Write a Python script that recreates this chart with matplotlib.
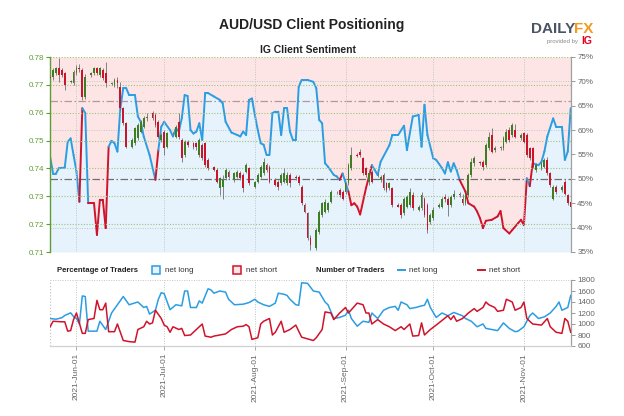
import matplotlib
matplotlib.use("Agg")
import matplotlib.dates as mdates
import matplotlib.pyplot as plt
import numpy as np
import pandas as pd
from matplotlib.collections import LineCollection
from matplotlib.lines import Line2D
from matplotlib.patches import Rectangle
from matplotlib.ticker import FormatStrFormatter, FuncFormatter

plt.rcParams["font.family"] = ["Liberation Sans", "DejaVu Sans"]

W, H = 624, 416

# AUD/USD daily candles, one per trading day (Sun-Fri), 2021-05-23 .. 2021-11-17
price_open = [
    .7729, .7729, .7741, .7759, .7753, .7741,
    .7711, .7705, .7741, .7762, .7753, .7658,
    .7735, .7741, .7759, .7735, .7753, .7741,
    .7703, .7699, .7717, .7693, .7616, .7563,
    .7478, .7490, .7508, .7532, .7550, .7580,
    .7598, .7592, .7568, .7502, .7532, .7478,
    .7526, .7514, .7568, .7502, .7448, .7496,
    .7490, .7490, .7448, .7484, .7490, .7430,
    .7406, .7394, .7328, .7334, .7364, .7388,
    .7358, .7370, .7382, .7376, .7388, .7400,
    .7334, .7352, .7370, .7382, .7412, .7406,
    .7358, .7352, .7346, .7352, .7346, .7376,
    .7370, .7370, .7334, .7269, .7239, .7149,
    .7113, .7173, .7233, .7245, .7251, .7281,
    .7314, .7322, .7316, .7316, .7346, .7400,
    .7450, .7460, .7436, .7400, .7352, .7388,
    .7376, .7358, .7376, .7346, .7328, .7328,
    .7269, .7269, .7239, .7263, .7269, .7304,
    .7251, .7257, .7292, .7269, .7209, .7221,
    .7263, .7263, .7298, .7292, .7269, .7298,
    .7310, .7292, .7275, .7304, .7376, .7418,
    .7424, .7424, .7412, .7472, .7520, .7466,
    .7472, .7472, .7496, .7538, .7520, .7538,
    .7508, .7526, .7520, .7472, .7472, .7394,
    .7400, .7406, .7430, .7382, .7292, .7334,
    .7322, .7352, .7304, .7281,
]
price_high = [
    .7735, .7759, .7765, .7795, .7760, .7745,
    .7718, .7753, .7771, .7775, .7760, .7740,
    .7747, .7765, .7765, .7765, .7760, .7783,
    .7712, .7723, .7729, .7711, .7622, .7568,
    .7508, .7550, .7562, .7574, .7590, .7600,
    .7605, .7598, .7574, .7526, .7538, .7532,
    .7532, .7556, .7598, .7508, .7502, .7502,
    .7496, .7495, .7508, .7490, .7496, .7436,
    .7410, .7400, .7370, .7376, .7400, .7394,
    .7388, .7394, .7390, .7382, .7418, .7406,
    .7356, .7382, .7412, .7436, .7420, .7412,
    .7364, .7358, .7382, .7400, .7388, .7382,
    .7376, .7376, .7340, .7275, .7245, .7160,
    .7185, .7250, .7281, .7290, .7281, .7322,
    .7320, .7328, .7322, .7352, .7418, .7478,
    .7455, .7470, .7442, .7406, .7390, .7394,
    .7382, .7376, .7382, .7352, .7352, .7334,
    .7275, .7275, .7298, .7304, .7328, .7316,
    .7268, .7316, .7298, .7275, .7240, .7260,
    .7275, .7298, .7310, .7298, .7304, .7322,
    .7316, .7310, .7310, .7382, .7436, .7445,
    .7428, .7430, .7490, .7530, .7546, .7480,
    .7480, .7515, .7540, .7550, .7562, .7560,
    .7526, .7532, .7526, .7478, .7478, .7418,
    .7424, .7436, .7440, .7388, .7340, .7340,
    .7340, .7360, .7310, .7290,
]
price_low = [
    .7717, .7717, .7735, .7711, .7729, .7681,
    .7705, .7700, .7735, .7745, .7646, .7650,
    .7729, .7735, .7735, .7729, .7717, .7693,
    .7699, .7693, .7687, .7610, .7555, .7472,
    .7472, .7484, .7502, .7526, .7544, .7570,
    .7575, .7550, .7508, .7496, .7448, .7472,
    .7520, .7508, .7505, .7424, .7442, .7478,
    .7470, .7465, .7440, .7430, .7406, .7394,
    .7390, .7346, .7304, .7292, .7358, .7364,
    .7352, .7364, .7358, .7316, .7382, .7340,
    .7328, .7346, .7364, .7376, .7388, .7346,
    .7336, .7322, .7340, .7346, .7340, .7334,
    .7360, .7340, .7269, .7239, .7143, .7107,
    .7107, .7165, .7225, .7240, .7245, .7275,
    .7310, .7298, .7286, .7310, .7340, .7394,
    .7440, .7440, .7376, .7370, .7340, .7346,
    .7370, .7352, .7322, .7316, .7322, .7263,
    .7260, .7221, .7233, .7257, .7263, .7251,
    .7246, .7251, .7227, .7170, .7200, .7215,
    .7258, .7257, .7280, .7230, .7263, .7292,
    .7298, .7270, .7269, .7298, .7370, .7410,
    .7412, .7394, .7406, .7466, .7455, .7460,
    .7466, .7466, .7490, .7496, .7514, .7508,
    .7502, .7490, .7440, .7430, .7400, .7388,
    .7394, .7400, .7376, .7334, .7286, .7310,
    .7316, .7304, .7269, .7255,
]
price_close = [
    .7723, .7753, .7759, .7735, .7735, .7700,
    .7713, .7747, .7759, .7757, .7658, .7729,
    .7741, .7759, .7741, .7759, .7723, .7705,
    .7707, .7717, .7705, .7616, .7563, .7478,
    .7502, .7544, .7556, .7568, .7580, .7586,
    .7580, .7556, .7514, .7520, .7472, .7526,
    .7528, .7550, .7514, .7436, .7496, .7484,
    .7478, .7478, .7502, .7436, .7412, .7400,
    .7394, .7352, .7364, .7358, .7394, .7370,
    .7382, .7388, .7364, .7328, .7412, .7346,
    .7352, .7376, .7406, .7424, .7394, .7352,
    .7340, .7334, .7376, .7382, .7376, .7346,
    .7364, .7346, .7275, .7245, .7149, .7125,
    .7179, .7245, .7275, .7281, .7275, .7316,
    .7316, .7304, .7292, .7346, .7412, .7448,
    .7446, .7448, .7382, .7376, .7382, .7352,
    .7378, .7370, .7328, .7322, .7346, .7269,
    .7263, .7233, .7292, .7298, .7316, .7257,
    .7263, .7304, .7233, .7179, .7233, .7251,
    .7270, .7292, .7290, .7269, .7298, .7310,
    .7304, .7275, .7304, .7376, .7424, .7436,
    .7418, .7406, .7484, .7514, .7460, .7472,
    .7476, .7508, .7532, .7502, .7556, .7514,
    .7520, .7496, .7448, .7436, .7406, .7412,
    .7418, .7430, .7382, .7340, .7334, .7316,
    .7334, .7310, .7275, .7263,
]

# IG client sentiment: % of traders net long
sentiment_days = [
    "05-23", "05-24", "05-25", "05-26", "05-28", "05-29", "05-30", "05-31", "06-01", "06-02",
    "06-03", "06-04", "06-05", "06-07", "06-08", "06-09", "06-10", "06-11", "06-12", "06-13",
    "06-14", "06-15", "06-16", "06-17", "06-18", "06-19", "06-21", "06-22", "06-23", "06-24",
    "06-26", "06-28", "06-29", "06-30", "07-01", "07-03", "07-04", "07-05", "07-06", "07-07",
    "07-08", "07-09", "07-10", "07-11", "07-12", "07-13", "07-14", "07-15", "07-16", "07-18",
    "07-20", "07-21", "07-22", "07-24", "07-26", "07-27", "07-28", "07-29", "07-30", "07-31",
    "08-01", "08-02", "08-03", "08-04", "08-05", "08-06", "08-07", "08-08", "08-09", "08-10",
    "08-11", "08-12", "08-13", "08-14", "08-15", "08-16", "08-17", "08-19", "08-21", "08-22",
    "08-23", "08-24", "08-25", "08-26", "08-28", "08-29", "08-30", "08-31", "09-02", "09-03",
    "09-04", "09-05", "09-06", "09-08", "09-10", "09-11", "09-12", "09-13", "09-16", "09-17",
    "09-19", "09-21", "09-22", "09-24", "09-26", "09-27", "09-28", "09-29", "10-01", "10-02",
    "10-04", "10-05", "10-06", "10-07", "10-08", "10-09", "10-10", "10-12", "10-13", "10-15",
    "10-16", "10-17", "10-18", "10-19", "10-21", "10-23", "10-24", "10-25", "10-27", "10-28",
    "10-30", "10-31", "11-01", "11-02", "11-03", "11-04", "11-06", "11-07", "11-08", "11-09",
    "11-11", "11-12", "11-14", "11-15", "11-16", "11-17",
]
pct_net_long = [
    54.5, 51.1, 51.1, 52.2, 52.3, 57.6, 58.3, 54.9, 51.5, 45.3,
    64.5, 63.5, 45.0, 45.0, 38.5, 45.7, 45.7, 39.9, 56.6, 57.8,
    57.3, 55.6, 64.5, 68.6, 68.6, 67.2, 67.2, 62.8, 61.7, 58.7,
    54.9, 49.8, 55.9, 60.7, 61.7, 60.0, 58.7, 60.4, 59.7, 62.4,
    67.2, 67.0, 60.0, 59.3, 59.7, 61.4, 58.0, 67.6, 67.6, 66.9,
    66.2, 65.5, 61.7, 59.5, 59.0, 58.7, 59.7, 59.0, 66.2, 66.5,
    63.1, 60.0, 57.3, 57.0, 54.9, 54.9, 63.5, 63.8, 63.8, 59.0,
    64.5, 64.5, 59.7, 58.0, 58.0, 68.9, 70.3, 70.3, 69.9, 68.6,
    62.1, 61.4, 53.2, 52.5, 50.8, 50.5, 49.8, 51.1, 47.4, 44.6,
    45.0, 44.3, 42.7, 48.1, 52.8, 51.8, 50.8, 53.5, 56.9, 59.0,
    59.0, 60.9, 55.9, 62.8, 63.1, 56.6, 65.2, 59.0, 54.2, 53.9,
    52.2, 51.1, 53.4, 51.5, 53.2, 51.8, 49.8, 47.4, 45.0, 44.3,
    43.3, 41.9, 39.9, 41.4, 41.6, 42.3, 43.4, 39.9, 38.8, 39.5,
    40.9, 41.6, 40.5, 50.1, 48.5, 53.2, 52.8, 53.5, 55.6, 58.7,
    62.4, 60.7, 60.7, 53.9, 55.6, 64.5,
]

# number of traders
long_days = [
    "05-23", "05-25", "05-27", "05-28", "05-30", "05-31", "06-01", "06-02", "06-03", "06-04",
    "06-05", "06-08", "06-09", "06-11", "06-13", "06-15", "06-17", "06-19", "06-22", "06-24",
    "06-25", "06-26", "06-28", "06-29", "06-30", "07-01", "07-03", "07-05", "07-07", "07-08",
    "07-09", "07-10", "07-12", "07-13", "07-14", "07-16", "07-17", "07-18", "07-20", "07-22",
    "07-23", "07-25", "07-28", "07-30", "08-01", "08-02", "08-04", "08-06", "08-08", "08-09",
    "08-11", "08-12", "08-13", "08-15", "08-16", "08-17", "08-19", "08-21", "08-23", "08-25",
    "08-26", "08-28", "08-30", "09-01", "09-02", "09-03", "09-05", "09-07", "09-09", "09-10",
    "09-12", "09-14", "09-16", "09-18", "09-19", "09-20", "09-22", "09-23", "09-25", "09-27",
    "09-28", "09-29", "09-30", "10-02", "10-04", "10-06", "10-07", "10-08", "10-11", "10-12",
    "10-14", "10-16", "10-18", "10-19", "10-21", "10-23", "10-25", "10-27", "10-29", "10-30",
    "11-01", "11-03", "11-04", "11-06", "11-08", "11-10", "11-12", "11-13", "11-14", "11-16", "11-17",
]
long_traders = [
    1100, 1087, 1114, 1155, 1203, 1135, 1100, 1000, 1510, 1500,
    870, 870, 1050, 900, 1200, 1350, 1500, 1350, 1400, 1300,
    1320, 1180, 1250, 1450, 1570, 1550, 1260, 1350, 1330, 1600,
    1600, 1300, 1300, 1420, 1380, 1640, 1620, 1560, 1600, 1580,
    1450, 1350, 1360, 1390, 1450, 1400, 1350, 1320, 1380, 1560,
    1540, 1520, 1450, 1350, 1340, 1750, 1740, 1600, 1580, 1400,
    1350, 1100, 1120, 1160, 1250, 1100, 960, 1050, 1030, 1200,
    1100, 1250, 1300, 1320, 1250, 1400, 1350, 1280, 1300, 1330,
    1340, 1450, 1300, 1120, 1200, 1150, 1180, 1210, 1150, 1100,
    1050, 950, 1000, 920, 900, 880, 1020, 920, 860, 870,
    950, 1150, 1200, 1100, 1130, 1200, 1320, 1400, 1250, 1300, 1520,
]
short_days = [
    "05-23", "05-24", "05-27", "05-28", "05-29", "05-30", "05-31", "06-01", "06-03", "06-04",
    "06-05", "06-07", "06-08", "06-09", "06-10", "06-11", "06-12", "06-14", "06-15", "06-17",
    "06-19", "06-21", "06-22", "06-24", "06-25", "06-26", "06-27", "06-28", "06-30", "07-01",
    "07-02", "07-03", "07-04", "07-06", "07-07", "07-08", "07-10", "07-12", "07-13", "07-14",
    "07-15", "07-17", "07-18", "07-20", "07-22", "07-24", "07-26", "07-28", "07-29", "07-30",
    "07-31", "08-02", "08-03", "08-04", "08-06", "08-07", "08-08", "08-10", "08-11", "08-13",
    "08-15", "08-17", "08-19", "08-21", "08-22", "08-24", "08-25", "08-27", "08-28", "08-30",
    "09-01", "09-02", "09-05", "09-07", "09-08", "09-09", "09-10", "09-12", "09-14", "09-16",
    "09-18", "09-20", "09-21", "09-23", "09-24", "09-26", "09-27", "09-28", "09-30", "10-02",
    "10-06", "10-07", "10-08", "10-09", "10-11", "10-13", "10-15", "10-16", "10-18", "10-19",
    "10-20", "10-22", "10-23", "10-25", "10-26", "10-28", "10-29", "10-31", "11-01", "11-02",
    "11-04", "11-07", "11-09", "11-10", "11-12", "11-14", "11-15", "11-16", "11-17",
]
short_traders = [
    950, 1050, 1040, 1040, 870, 880, 1080, 1200, 830, 830,
    1080, 1100, 1430, 1260, 1260, 1380, 860, 860, 1000, 700,
    680, 670, 900, 950, 1050, 1000, 1020, 1250, 1100, 980,
    950, 850, 950, 900, 920, 790, 800, 900, 950, 1000,
    780, 760, 780, 800, 820, 900, 950, 960, 990, 950,
    720, 750, 1000, 1050, 1100, 800, 850, 1050, 850, 900,
    980, 760, 730, 700, 750, 900, 1220, 1200, 1080, 1200,
    1300, 1200, 1380, 1350, 1200, 1200, 1000, 1080, 1000, 950,
    880, 950, 900, 1000, 780, 790, 1020, 800, 900, 980,
    1150, 1080, 1150, 1050, 1100, 1200, 1280, 1230, 1300, 1400,
    1350, 1300, 1230, 1250, 1450, 1400, 1250, 1300, 1400, 1100,
    1000, 980, 1100, 950, 850, 830, 1100, 1050, 850,
]

price_ticks = [0.71, 0.72, 0.73, 0.74, 0.75, 0.76, 0.77, 0.78]
pct_ticks = [35, 40, 45, 50, 55, 60, 65, 70, 75]
trader_ticks = [600, 800, 1000, 1200, 1400, 1600, 1800]
month_starts = ["2021-06-01", "2021-07-01", "2021-08-01", "2021-09-01", "2021-10-01", "2021-11-01"]

# colours
AX_GREEN = "#5f9c35"
GRID_GREEN = "#9cc47c"
GRID_GREY = "#c4c4c4"
PINK = "#fde5e5"
SKY = "#e6f3fc"
BLUE = "#2b9de2"
RED = "#d0132b"
BODY_GREEN = "#3e7d24"
BODY_RED = "#c9152b"
WICK = "#707070"
TEXT_GREY = "#666666"


def to_num(days):
    return mdates.date2num(pd.to_datetime(["2021-" + d for d in days]))


candle_x = mdates.date2num(pd.bdate_range("2021-05-23", "2021-11-17", freq="C",
                                          weekmask="Sun Mon Tue Wed Thu Fri"))
o = np.array(price_open)
c = np.array(price_close)
sx = to_num(sentiment_days)
sv = np.array(pct_net_long)
month_x = mdates.date2num(pd.to_datetime(month_starts))
x_min = mdates.date2num(pd.Timestamp("2021-05-23")) - 0.05
x_max = mdates.date2num(pd.Timestamp("2021-11-17")) + 0.1

fig = plt.figure(figsize=(W / 100, H / 100), dpi=100)

# ---- main panel: price + sentiment
ax = fig.add_axes([50 / W, 1 - 252 / H, 521 / W, 195 / H])
axp = ax.twinx()
ax.set_zorder(2)
axp.set_zorder(1)
ax.patch.set_visible(False)

axp.fill_between(sx, sv, 35, color=SKY, lw=0)
axp.fill_between(sx, sv, 75, color=PINK, lw=0)
for v in (40, 60, 70):
    axp.axhline(v, color=GRID_GREY, ls=(0, (1, 1.5)), lw=0.7)
axp.axhline(50, color="#6f6f6f", ls=(0, (6, 2, 1.2, 2)), lw=0.9)
axp.axhline(66, color="#b69797", ls=(0, (6, 2, 1.2, 2)), lw=0.9)

pts = np.column_stack([sx, sv])
segs = np.stack([pts[:-1], pts[1:]], axis=1)
seg_colors = [BLUE if v >= 50 else RED for v in sv[:-1]]
axp.add_collection(LineCollection(segs, colors=seg_colors, linewidths=1.4, capstyle="round"))

axp.set_ylim(35, 75)
axp.set_yticks(pct_ticks)
axp.yaxis.set_major_formatter(FuncFormatter(lambda v, _: f"{v:.0f}%"))
axp.tick_params(axis="y", colors="#999999", labelcolor=TEXT_GREY, labelsize=5.8,
                length=3, width=0.7, pad=1.5)
for s in ("left", "top", "bottom"):
    axp.spines[s].set_visible(False)
axp.spines["right"].set_color("#a0a0a0")
axp.spines["right"].set_linewidth(0.9)

for p in price_ticks:
    ax.axhline(p, color=GRID_GREEN, ls=(0, (1, 1.5)), lw=0.8, zorder=1)
for mx in month_x:
    ax.axvline(mx, color=GRID_GREY, ls=(0, (1, 1.5)), lw=0.7, zorder=1)

ax.vlines(candle_x, price_low, price_high, color=WICK, lw=0.6, zorder=2)
body_colors = [BODY_GREEN if cc >= oo else BODY_RED for oo, cc in zip(o, c)]
heights = np.maximum(np.abs(c - o), 0.00012)
ax.bar(candle_x, heights, bottom=np.minimum(o, c), width=0.62, color=body_colors,
       lw=0, zorder=3)

ax.set_ylim(0.71, 0.78)
ax.set_yticks(price_ticks)
ax.yaxis.set_major_formatter(FormatStrFormatter("%.2f"))
ax.tick_params(axis="y", colors=AX_GREEN, labelsize=5.8, length=3, width=0.8, pad=1.5)
ax.tick_params(axis="x", bottom=False, labelbottom=False)
for s in ("right", "top", "bottom"):
    ax.spines[s].set_visible(False)
ax.spines["left"].set_color(AX_GREEN)
ax.spines["left"].set_linewidth(1.0)
ax.set_xlim(x_min, x_max)
axp.set_xlim(x_min, x_max)

# ---- bottom panel: number of traders
axb = fig.add_axes([50 / W, 1 - 346 / H, 521 / W, 66 / H])
axb.axhline(1800, color=GRID_GREY, ls=(0, (1, 1.5)), lw=0.7, zorder=1)
axb.axvline(x_min, color=GRID_GREY, ls=(0, (1, 1.5)), lw=0.9, zorder=1)
for mx in month_x:
    axb.axvline(mx, color=GRID_GREY, ls=(0, (1, 1.5)), lw=0.7, zorder=1)
axb.plot(to_num(long_days), long_traders, color=BLUE, lw=1.1, zorder=3)
axb.plot(to_num(short_days), short_traders, color=RED, lw=1.1, zorder=3)
axb.set_xlim(x_min, x_max)
axb.set_ylim(600, 1800)
axb.set_yticks(trader_ticks)
axb.yaxis.tick_right()
axb.tick_params(axis="y", colors="#999999", labelcolor=TEXT_GREY, labelsize=5.8,
                length=3, width=0.7, pad=1.5)
axb.set_xticks(month_x)
axb.xaxis.set_major_formatter(mdates.DateFormatter("%Y-%b-%d"))
axb.tick_params(axis="x", colors="#aaaaaa", labelcolor=TEXT_GREY, labelsize=6,
                length=3, width=0.7, pad=2, labelrotation=90)
for s in ("left", "top"):
    axb.spines[s].set_visible(False)
axb.spines["right"].set_color("#a0a0a0")
axb.spines["right"].set_linewidth(0.9)
axb.spines["bottom"].set_color("#d0d0d0")
axb.spines["bottom"].set_linewidth(0.9)


# ---- titles, logo, legend row
def fx(x):
    return x / W


def fy(y):
    return 1 - y / H


fig.text(0.5, fy(25), "AUD/USD Client Positioning", ha="center", va="center",
         fontsize=10, fontweight="bold", color="#222222")
fig.text(fx(308), fy(50), "IG Client Sentiment", ha="center", va="center",
         fontsize=7.5, fontweight="bold", color="#222222")

fig.text(fx(531), fy(29), "DAILY", ha="left", va="center", fontsize=11,
         fontweight="bold", color="#4a5466")
fig.text(fx(574), fy(29), "FX", ha="left", va="center", fontsize=11,
         fontweight="bold", color="#f39a1e")
fig.text(fx(578), fy(41), "provided by", ha="right", va="center", fontsize=4.3,
         color="#888888")
fig.text(fx(581), fy(41), "IG", ha="left", va="center", fontsize=7.5,
         fontweight="bold", color="#e3001b")

ly = fy(270)
fig.text(fx(57), ly, "Percentage of Traders", ha="left", va="center", fontsize=5.6,
         fontweight="bold", color="#222222")
fig.add_artist(Rectangle((fx(152), fy(274)), 8 / W, 8 / H, transform=fig.transFigure,
                         facecolor=SKY, edgecolor=BLUE, lw=1.1))
fig.text(fx(165), ly, "net long", ha="left", va="center", fontsize=5.8, color="#333333")
fig.add_artist(Rectangle((fx(233), fy(274)), 8 / W, 8 / H, transform=fig.transFigure,
                         facecolor=PINK, edgecolor=RED, lw=1.1))
fig.text(fx(246), ly, "net short", ha="left", va="center", fontsize=5.8, color="#333333")
fig.text(fx(316), ly, "Number of Traders", ha="left", va="center", fontsize=5.6,
         fontweight="bold", color="#222222")
fig.add_artist(Line2D([fx(398), fx(405)], [ly, ly], transform=fig.transFigure,
                      color=BLUE, lw=1.4))
fig.text(fx(409), ly, "net long", ha="left", va="center", fontsize=5.8, color="#333333")
fig.add_artist(Line2D([fx(478), fx(485)], [ly, ly], transform=fig.transFigure,
                      color=RED, lw=1.4))
fig.text(fx(489), ly, "net short", ha="left", va="center", fontsize=5.8, color="#333333")

fig.savefig("out.png", dpi=100)
